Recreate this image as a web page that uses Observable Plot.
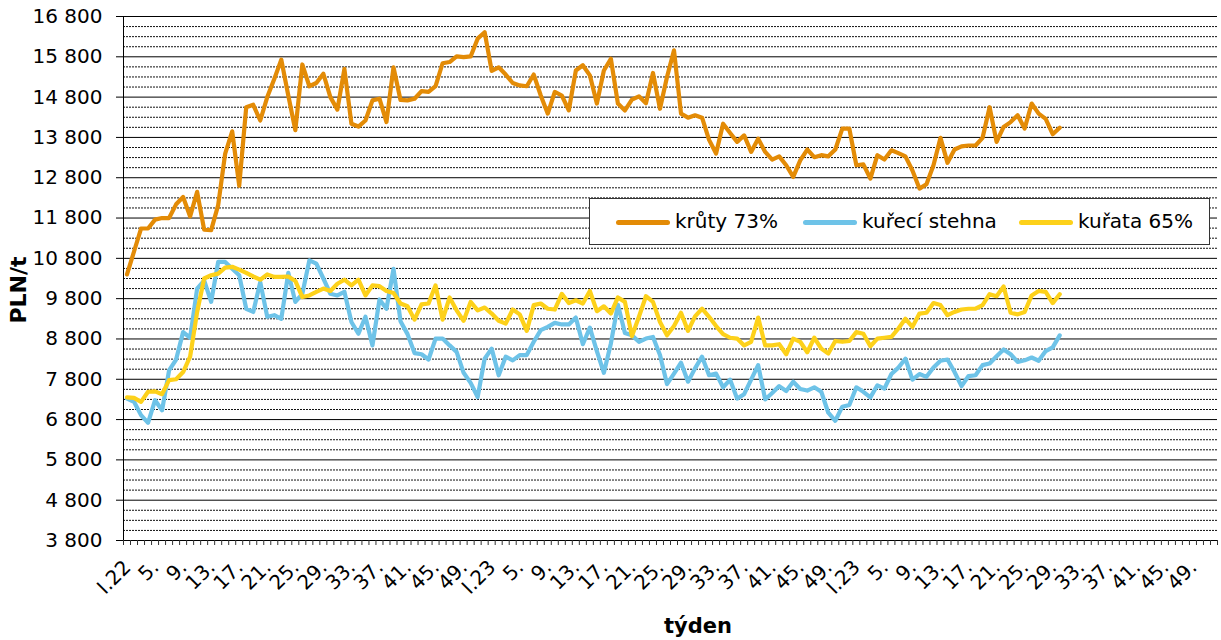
<!DOCTYPE html>
<html><head><meta charset="utf-8">
<script src="https://cdn.jsdelivr.net/npm/d3@7"></script>
<script src="https://cdn.jsdelivr.net/npm/@observablehq/plot@0.6"></script>
<style>
body{margin:0;background:#fff;}
#wrap{position:relative;width:1221px;height:640px;font-family:"DejaVu Sans",Verdana,sans-serif;color:#000;overflow:hidden;}
#wrap svg{position:absolute;left:0;top:0;}
.ytitle{position:absolute;left:18px;top:290px;transform:translate(-50%,-50%) rotate(-90deg);font-weight:bold;font-size:22px;white-space:nowrap;}
.xtitle{position:absolute;left:698px;top:614px;transform:translateX(-50%);font-weight:bold;font-size:21px;white-space:nowrap;}
.legend{position:absolute;left:589px;top:198px;width:621px;height:47px;border:1px solid #333;background:#fff;box-sizing:border-box;}
.legend .sw{position:absolute;top:21px;width:54px;height:5px;border-radius:3px;}
.legend .lt{position:absolute;top:10px;font-size:20px;line-height:24px;white-space:nowrap;}
</style></head><body><div id="wrap"></div><script>
// ---- data ----
const seriesNames = ["krůty 73%", "kuřecí stehna", "kuřata 65%"];
const seriesColors = ["#E38B06", "#6EC3E8", "#FDD11A"];
const weeksPerYear = 52;
const yearCount = 3;
const tickLabels = ["I.22","5.","9.","13.","17.","21.","25.","29.","33.","37.","41.","45.","49.",
                    "I.23","5.","9.","13.","17.","21.","25.","29.","33.","37.","41.","45.","49.",
                    "I.23","5.","9.","13.","17.","21.","25.","29.","33.","37.","41.","45.","49."];
const yTicks = [3800,4800,5800,6800,7800,8800,9800,10800,11800,12800,13800,14800,15800,16800];

const kruty = [10400,10970,11540,11540,11760,11800,11800,12140,12320,11840,12450,11510,11500,12120,13400,13950,12600,14550,14610,14220,
14800,15250,15730,14840,13980,15610,15070,15150,15380,14800,14490,15500,14140,14070,14220,14720,14760,14180,15540,14730,
14720,14760,14950,14930,15070,15640,15670,15810,15790,15810,16250,16410,15450,15540,15360,15150,15090,15070,15360,14840,
14390,14930,14840,14470,15460,15590,15340,14640,15460,15750,14640,14470,14740,14820,14650,15400,14510,15300,15960,14390,
14290,14350,14290,13740,13400,14140,13910,13690,13850,13440,13770,13440,13250,13330,13110,12820,13230,13500,13310,13360,
13330,13500,14020,14020,13110,13130,12780,13360,13250,13480,13410,13330,12980,12530,12640,13110,13790,13170,13500,13580,
13600,13600,13790,14550,13690,14060,14180,14350,14020,14640,14390,14260,13880,14040];

const stehna = [7320,7240,6910,6720,7280,7030,8020,8290,8970,8830,10050,10250,9720,10710,10710,10540,10380,9550,9470,10210,
9350,9390,9300,10440,9720,9920,10750,10670,10300,9920,9880,9970,9220,8930,9350,8640,9780,9550,10540,9240,
8920,8450,8420,8290,8810,8810,8640,8480,7960,7710,7360,8310,8560,7900,8360,8270,8400,8400,8730,9020,
9100,9200,9160,9160,9330,8670,9080,8500,7960,8690,9650,8950,8890,8730,8810,8850,8400,7680,7940,8210,
7740,8070,8360,7900,7940,7600,7790,7320,7430,7790,8150,7300,7460,7630,7510,7740,7560,7520,7600,7490,
6970,6770,7120,7160,7600,7490,7350,7650,7570,7930,8090,8310,7790,7930,7860,8090,8260,8290,7980,7630,
7880,7900,8150,8190,8370,8540,8420,8230,8270,8340,8260,8500,8590,8890];

const kurata = [7350,7340,7240,7490,7500,7430,7780,7800,7980,8360,9470,10300,10380,10420,10570,10590,10520,10440,10350,10270,
10400,10340,10340,10350,10240,9840,9880,9970,10050,9990,10170,10270,10130,10270,9880,10130,10110,9990,9940,9680,
9610,9280,9660,9680,10130,9280,9830,9510,9250,9720,9510,9580,9430,9250,9180,9530,9410,9000,9640,9680,
9550,9530,9920,9690,9760,9680,9990,9490,9610,9430,9830,9720,8870,9350,9860,9720,9220,8890,9120,9450,
9000,9360,9550,9350,9120,8920,8830,8810,8640,8730,9330,8640,8640,8670,8420,8810,8730,8470,8830,8560,
8440,8750,8730,8750,8970,8930,8620,8810,8830,8850,9060,9300,9100,9430,9450,9690,9640,9390,9470,9530,
9550,9550,9640,9910,9860,10100,9450,9410,9470,9880,9990,9970,9690,9910];

// ---- derived helpers ----
const nCat = weeksPerYear * yearCount;
const tickIdx = tickLabels.map((_, k) => Math.floor(k / 13) * weeksPerYear + (k % 13) * 4);
const minorTicks = d3.range(yTicks[0], yTicks[yTicks.length - 1], 250).filter(v => !yTicks.includes(v));
const fmt = d3.formatLocale({thousands: "\u00a0", grouping: [3], decimal: ","}).format(",d");
const lineOpts = (c) => ({x: (d, i) => i + 0.5, y: d => d, stroke: c, strokeWidth: 4.2, strokeLinejoin: "round", strokeLinecap: "round"});

const chart = Plot.plot({
  width: 1221, height: 640,
  marginLeft: 123, marginRight: 4, marginTop: 16, marginBottom: 100,
  style: {fontFamily: "'DejaVu Sans', Verdana, sans-serif", fontSize: "20px", color: "#000", background: "transparent", overflow: "visible"},
  x: {type: "linear", domain: [0, nCat]},
  y: {domain: [yTicks[0], yTicks[yTicks.length - 1]]},
  marks: [
    Plot.ruleY(minorTicks, {stroke: "#111", strokeDasharray: "2,1", strokeWidth: 1}),
    Plot.ruleY(yTicks, {stroke: "#000", strokeWidth: 1}),
    Plot.axisY({ticks: yTicks, tickSize: 7, tickPadding: 14, tickFormat: fmt, fontSize: 20, label: null, stroke: "#000"}),
    Plot.axisX({ticks: d3.range(0, nCat + 1), tickSize: 5, tickFormat: () => "", label: null, stroke: "#333"}),
    Plot.ruleX([0], {stroke: "#000"}),
    Plot.text(tickIdx, {x: d => d + 0.5, text: (d, k) => tickLabels[k], frameAnchor: "bottom", rotate: -45,
      textAnchor: "end", lineAnchor: "bottom", dx: 5, dy: 28, fontSize: 20, fill: "#000"}),
    Plot.line(kruty, lineOpts(seriesColors[0])),
    Plot.line(stehna, lineOpts(seriesColors[1])),
    Plot.line(kurata, lineOpts(seriesColors[2]))
  ]
});

const wrap = document.getElementById("wrap");
wrap.appendChild(chart);

const yt = document.createElement("div"); yt.className = "ytitle"; yt.textContent = "PLN/t"; wrap.appendChild(yt);
const xt = document.createElement("div"); xt.className = "xtitle"; xt.textContent = "týden"; wrap.appendChild(xt);

const lg = document.createElement("div"); lg.className = "legend";
const swX = [26, 213, 429];
seriesNames.forEach((name, k) => {
  const sw = document.createElement("div"); sw.className = "sw";
  sw.style.left = swX[k] + "px"; sw.style.background = seriesColors[k];
  const t = document.createElement("div"); t.className = "lt";
  t.style.left = (swX[k] + 59) + "px"; t.textContent = name;
  lg.appendChild(sw); lg.appendChild(t);
});
wrap.appendChild(lg);
</script></body></html>
